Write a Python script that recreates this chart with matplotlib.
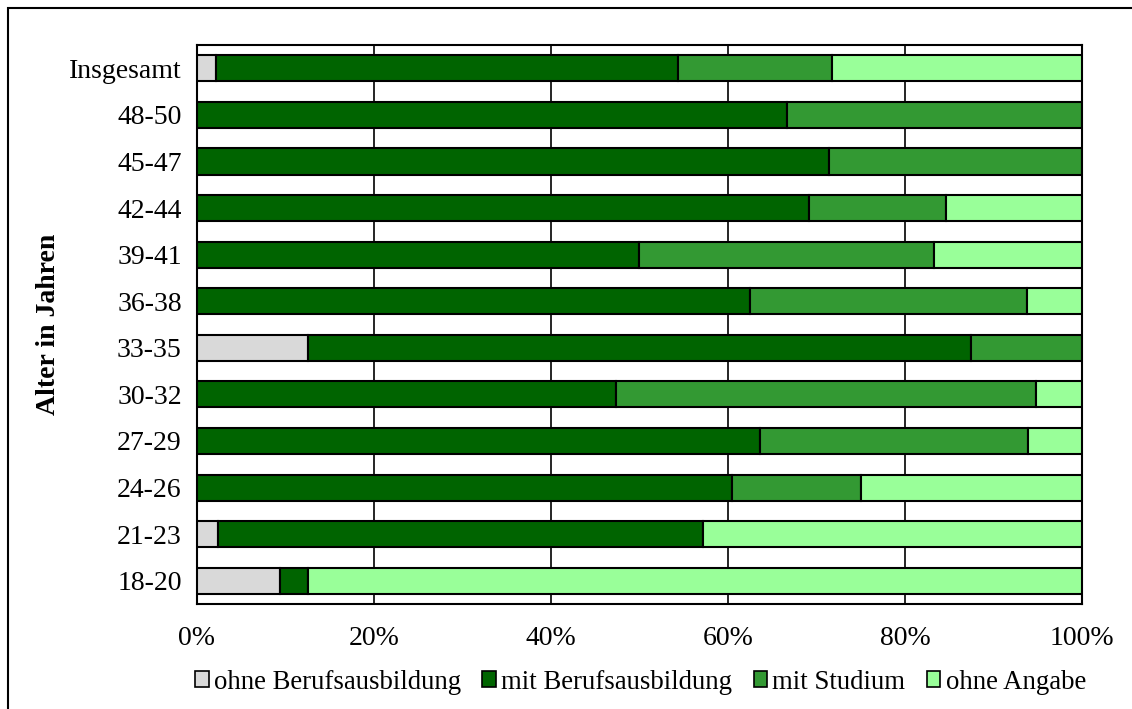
import matplotlib
matplotlib.use("Agg")
import matplotlib.pyplot as plt
import matplotlib.patches as mpatches
import numpy as np

# Altersgruppen (von unten nach oben)
groups = ["18-20", "21-23", "24-26", "27-29", "30-32", "33-35",
          "36-38", "39-41", "42-44", "45-47", "48-50", "Insgesamt"]

# Anteile in % je Gruppe
ohne_beruf = [9.4, 2.4, 0.0, 0.0, 0.0, 12.5, 0.0, 0.0, 0.0, 0.0, 0.0, 2.2]
mit_beruf = [3.1, 54.8, 60.4, 63.6, 47.4, 75.0, 62.5, 50.0, 69.2, 71.4, 66.7, 52.1]
mit_studium = [0.0, 0.0, 14.6, 30.3, 47.4, 12.5, 31.25, 33.3, 15.4, 28.6, 33.3, 17.4]
ohne_angabe = [87.5, 42.8, 25.0, 6.1, 5.2, 0.0, 6.25, 16.7, 15.4, 0.0, 0.0, 28.3]

series = [
    ("ohne Berufsausbildung", ohne_beruf, "#d9d9d9"),
    ("mit Berufsausbildung", mit_beruf, "#006400"),
    ("mit Studium", mit_studium, "#339933"),
    ("ohne Angabe", ohne_angabe, "#99ff99"),
]

plt.rcParams['font.family'] = ['Liberation Serif', 'DejaVu Serif']
FS = 20

fig = plt.figure(figsize=(11.32, 7.09), dpi=100)
ax = fig.add_axes([0.1740, 0.1481, 0.9558 - 0.1740, 0.9365 - 0.1481])

y = np.arange(len(groups))
left = np.zeros(len(groups))
for name, vals, col in series:
    vals = np.array(vals)
    ax.barh(y, vals, left=left, height=0.56, color=col, edgecolor="black",
            linewidth=1.5, label=name, zorder=3)
    left += vals

ax.set_xlim(0, 100)
ax.set_ylim(-0.5, len(groups) - 0.5)
ax.set_xticks([0, 20, 40, 60, 80, 100])
ax.set_xticklabels([f"{v}%" for v in [0, 20, 40, 60, 80, 100]], fontsize=FS)
ax.set_yticks(y)
ax.set_yticklabels(groups, fontsize=FS)
ax.tick_params(axis="y", length=0, pad=11)
ax.tick_params(axis="x", length=0, pad=16)
ax.xaxis.grid(True, color="black", linewidth=1.2, zorder=0)
ax.set_axisbelow(True)
for s in ax.spines.values():
    s.set_linewidth(1.5)

ax.set_ylabel("Alter in Jahren", fontsize=FS, fontweight="bold", labelpad=6)

leg = fig.legend(loc="center", bbox_to_anchor=(0.5658, 0.038), ncol=4,
                 frameon=False, fontsize=19.3, handlelength=0.5, handleheight=0.5,
                 handletextpad=0.2, columnspacing=0.8)
for h in leg.legend_handles:
    h.set_linewidth(1.2)

# Rahmen um die Grafik
fig.patches.append(mpatches.Rectangle((8 / 1132, -0.1), 1.2, 1 - 7.5 / 709 + 0.1,
                                      transform=fig.transFigure, fill=False,
                                      edgecolor="black", linewidth=1.5))

fig.savefig("out.png", dpi=100)
